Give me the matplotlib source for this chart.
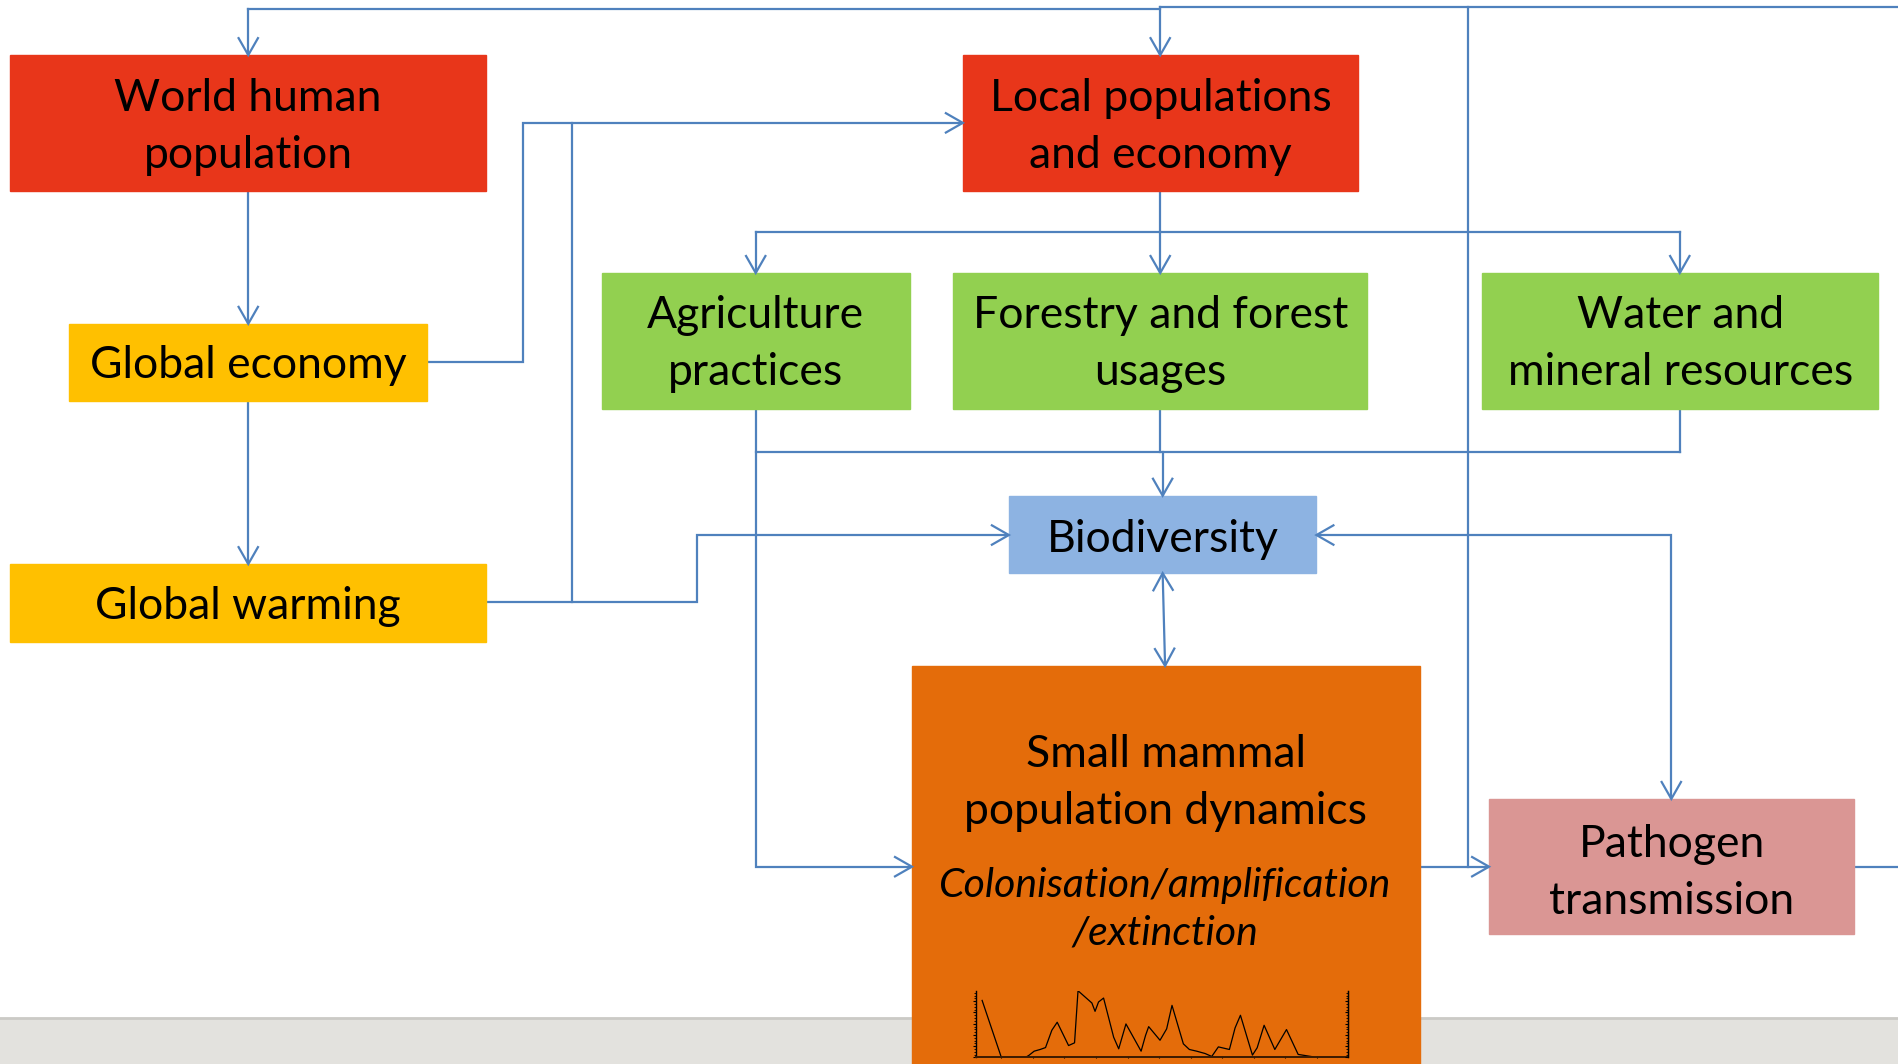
import numpy as np
import matplotlib
matplotlib.use('Agg')
import matplotlib.pyplot as plt
from matplotlib.patches import Rectangle

# box texts and fills
labels = ['World human\npopulation', 'Local populations\nand economy', 'Global economy',
          'Global warming', 'Agriculture\npractices', 'Forestry and forest\nusages',
          'Water and\nmineral resources', 'Biodiversity', 'Small mammal\npopulation dynamics',
          'Pathogen\ntransmission']
fills = ['#E8361A', '#E8361A', '#FFC000', '#FFC000', '#92D050', '#92D050',
         '#92D050', '#8DB3E2', '#E46C0A', '#DA9694']
subtitle = 'Colonisation/amplification\n/extinction'

# small mammal abundance series in the inset
t = [0.39, 1.0, 1.76, 1.87, 2.04, 2.23, 2.40, 2.60, 2.77, 3.13, 3.32, 3.43, 3.87, 3.97,
     4.08, 4.24, 4.56, 4.72, 4.95, 5.43, 5.57, 5.67, 6.03, 6.24, 6.41, 6.77, 6.96, 7.19,
     7.46, 7.67, 7.88, 8.23, 8.41, 8.58, 8.96, 9.11, 9.33, 9.67, 10.04, 10.41, 10.88]
abundance = [5.07, 0.0, 0.0, 0.18, 0.56, 0.71, 0.88, 2.42, 3.13, 1.06, 1.30, 5.93, 4.84, 4.10,
             4.93, 5.28, 1.80, 0.77, 2.98, 0.56, 1.95, 2.74, 1.53, 2.54, 4.63, 1.21, 0.71, 0.56,
             0.35, 0.09, 0.94, 0.71, 2.63, 3.75, 0.21, 0.86, 2.86, 0.71, 2.48, 0.27, 0.06]

W, H = 1568, 879
BLUE = '#4F81BD'
fig = plt.figure(figsize=(18.99, 10.64), dpi=100)
ax = fig.add_axes([0, 0, 1, 1])
ax.set_xlim(0, W)
ax.set_ylim(H, 0)
ax.axis('off')

# layout of boxes (x0, y0, x1, y1)
boxes = [(8.5, 45.5, 401, 157.5), (795, 45.5, 1121.5, 157.5), (57, 267.5, 352.5, 331.5),
         (8, 466, 401, 530), (497, 225.5, 751, 337.5), (787, 225.5, 1129, 337.5),
         (1224, 225.5, 1551, 337.5), (833, 409.5, 1087, 473.5), (753, 550, 1172.5, 879),
         (1229.5, 660, 1531, 772)]
text_y = [105, 105, 302, 501, 284, 284, 284, 446, 647, 721]

# grey strip at the bottom
ax.add_patch(Rectangle((0, 841), W, H - 841, color='#E3E2DE', zorder=0))
ax.plot([0, W], [841, 841], color='#CBCAC6', lw=2, zorder=0)

for (x0, y0, x1, y1), c, lab, ty in zip(boxes, fills, labels, text_y):
    ax.add_patch(Rectangle((x0, y0), x1 - x0, y1 - y0, color=c, zorder=2))
    ax.text((x0 + x1) / 2, ty, lab, ha='center', va='center', fontsize=32,
            family='Lato', linespacing=1.47, zorder=3)
ax.text(962, 751, subtitle, ha='center', va='center', fontsize=29.5, style='italic',
        family='Lato', linespacing=1.35, zorder=3)


def wire(xs, ys):
    ax.plot(xs, ys, color=BLUE, lw=1.6, zorder=1, solid_joinstyle='miter')


def head(tip, frm, L=14, Wd=8):
    d = np.array(tip, float) - np.array(frm, float)
    d /= np.hypot(*d)
    n = np.array([-d[1], d[0]])
    tip = np.array(tip, float)
    a = tip - L * d + Wd * n
    b = tip - L * d - Wd * n
    ax.plot([a[0], tip[0], b[0]], [a[1], tip[1], b[1]], color=BLUE, lw=1.6, zorder=4,
            solid_joinstyle='miter')


# top feedback loop
wire([205, 958], [7.5, 7.5])
wire([958, W], [6, 6])
wire([205, 205], [7.5, 45.5]); head((205, 45.5), (205, 0))
wire([958, 958], [6, 45.5]); head((958, 45.5), (958, 0))
wire([1212, 1212], [6, 716])

# world -> economy -> warming
wire([205, 205], [157.5, 267.5]); head((205, 267.5), (205, 0))
wire([205, 205], [331.5, 466]); head((205, 466), (205, 0))

# economy and warming -> local populations
wire([352.5, 431.5, 431.5, 795], [299, 299, 101.5, 101.5]); head((795, 101.5), (0, 101.5))
wire([472.5, 472.5], [497.5, 101.5])
wire([401, 575.5, 575.5, 833], [497.5, 497.5, 442, 442]); head((833, 442), (0, 442))

# local populations -> land uses
wire([958, 958], [157.5, 191.5])
wire([624, 1387], [191.5, 191.5])
for x in (624, 958, 1387):
    wire([x, x], [191.5, 225.5]); head((x, 225.5), (x, 0))

# land uses -> biodiversity / mammals
wire([624, 624, 753], [337.5, 716, 716]); head((753, 716), (0, 716))
wire([624, 1387], [373.5, 373.5])
wire([1387, 1387], [337.5, 373.5])
wire([958, 958], [337.5, 373.5])
wire([960, 960], [373.5, 409.5]); head((960, 409.5), (960, 0))

# biodiversity <-> mammals
wire([960, 962], [473.5, 550]); head((960, 473.5), (962, 550)); head((962, 550), (960, 473.5))

# pathogen links
wire([1087, 1380, 1380], [442, 442, 660]); head((1087, 442), (W, 442)); head((1380, 660), (1380, 0))
wire([1172.5, 1229.5], [716, 716]); head((1229.5, 716), (0, 716))
wire([1531, W], [716, 716])

# inset population chart
ix0, ix1, iy0, iy1 = 806, 1113.3, 818.3, 873.6
ins = fig.add_axes([ix0 / W, 1 - iy1 / H, (ix1 - ix0) / W, (iy1 - iy0) / H])
ins.patch.set_alpha(0)
ins.plot(t, abundance, color='black', lw=0.9)
ins.set_xlim(0.2, 12.0)
ins.set_ylim(0, 5.95)
ins.spines['top'].set_visible(False)
ins.spines['left'].set_linewidth(1.0)
ins.spines['right'].set_linewidth(1.0)
ins.spines['bottom'].set_linewidth(1.4)
ins.spines['bottom'].set_color('#3a1a00')
ins.set_xticks(np.arange(1, 12))
ins.set_yticks(np.arange(0, 6))
ins.set_yticks(np.arange(0, 6, 0.25), minor=True)
ins.tick_params(axis='x', direction='inout', length=2, width=0.8, labelbottom=False)
ins.tick_params(axis='y', which='major', direction='out', length=2.5, width=0.8, labelleft=False)
ins.tick_params(axis='y', which='minor', direction='out', length=1.2, width=0.6)
rt = ins.twinx()
rt.set_ylim(0, 5.95)
rt.set_yticks(np.arange(0, 6))
rt.set_yticks(np.arange(0, 6, 0.25), minor=True)
rt.tick_params(axis='y', which='major', direction='in', length=2.5, width=0.8, labelright=False)
rt.tick_params(axis='y', which='minor', direction='in', length=1.2, width=0.6)
for s in ('top', 'left', 'bottom'):
    rt.spines[s].set_visible(False)

fig.savefig('out.png', dpi=100)
